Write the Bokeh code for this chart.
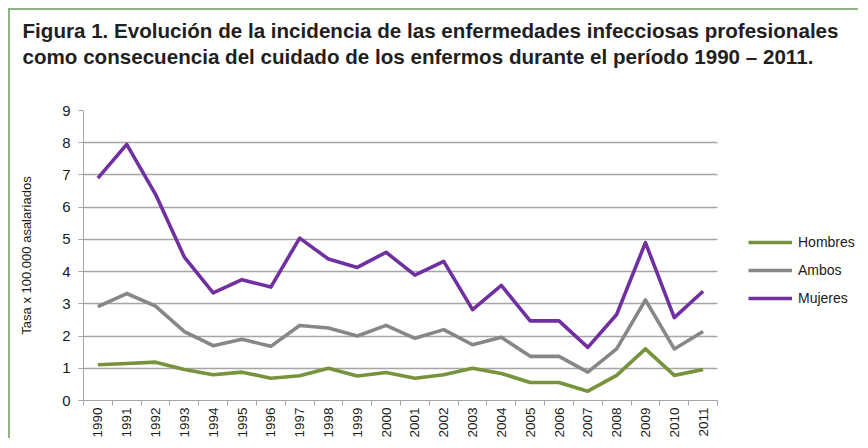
import math
from bokeh.plotting import figure
from bokeh.models import Range1d, FixedTicker, Legend, LegendItem, Title
from bokeh.embed import file_html
from bokeh.resources import INLINE

years = [1990, 1991, 1992, 1993, 1994, 1995, 1996, 1997, 1998, 1999, 2000,
         2001, 2002, 2003, 2004, 2005, 2006, 2007, 2008, 2009, 2010, 2011]
tick_labels = [str(y) for y in years]
hombres = [1.11, 1.15, 1.19, 0.96, 0.80, 0.88, 0.69, 0.77, 1.00, 0.76, 0.87,
           0.69, 0.80, 1.00, 0.84, 0.56, 0.56, 0.29, 0.78, 1.60, 0.78, 0.96]
ambos = [2.91, 3.32, 2.93, 2.14, 1.70, 1.90, 1.68, 2.33, 2.25, 2.00, 2.33,
         1.93, 2.20, 1.73, 1.96, 1.37, 1.37, 0.88, 1.60, 3.12, 1.60, 2.14]
mujeres = [6.90, 7.95, 6.40, 4.45, 3.34, 3.75, 3.52, 5.04, 4.39, 4.13, 4.60,
           3.89, 4.32, 2.82, 3.57, 2.47, 2.47, 1.65, 2.67, 4.90, 2.57, 3.39]
y_ticks = [0, 1, 2, 3, 4, 5, 6, 7, 8, 9]

series_names = ["Hombres", "Ambos", "Mujeres"]
series_colors = ["#77933c", "#878787", "#7030a0"]

title_text = ("Figura 1.  Evolución de la incidencia de las enfermedades infecciosas profesionales\n"
              "como consecuencia del cuidado de los enfermos durante el período 1990 – 2011.")
y_label = "Tasa x 100.000 asalariados"

W, H = 850, 430
LEFT, TOP, BOTTOM = 73, 100, 40
PLOT_W = 634     # width of the gridded plotting area
text_col = "#231f20"
grid_col = "#a6a6a6"

x0 = years[0] - 0.5
x1 = years[-1] + 0.5
x_end = x0 + (x1 - x0) * (W - LEFT) / PLOT_W

p = figure(width=W, height=H, output_backend="svg", toolbar_location=None,
           x_range=Range1d(x0, x_end), y_range=Range1d(y_ticks[0], y_ticks[-1]),
           min_border_left=LEFT, min_border_right=0, min_border_top=TOP,
           min_border_bottom=BOTTOM)
p.outline_line_color = None
p.styles = {"margin-left": "8px", "margin-top": "8px",
            "border-top": "2px solid #8db581", "border-left": "2px solid #8db581"}

# spacer closest to the frame, then the two-line title above it
p.add_layout(Title(text=" ", standoff=19, text_font_size="10px"), "above")
p.add_layout(Title(text=title_text, align="left", offset=-61, standoff=17,
                   vertical_align="top", text_font="Liberation Sans",
                   text_font_style="bold", text_font_size="20.6px",
                   text_line_height=1.13, text_color=text_col), "above")

p.xaxis.bounds = (x0, x1)
p.xaxis.ticker = FixedTicker(ticks=years,
                             minor_ticks=[y - 0.5 for y in years] + [x1])
p.xaxis.major_label_overrides = {y: l for y, l in zip(years, tick_labels)}
p.xaxis.major_tick_out = 0
p.xaxis.major_tick_in = 0
p.xaxis.minor_tick_out = 5
p.xaxis.minor_tick_in = 0
p.xaxis.minor_tick_line_color = grid_col
p.xaxis.axis_line_color = grid_col
p.xaxis.major_label_orientation = math.pi / 2
p.xaxis.major_label_text_font = "Liberation Sans"
p.xaxis.major_label_text_font_size = "13.5px"
p.xaxis.major_label_text_color = "#1a1a1a"
p.xaxis.major_label_standoff = 2

p.yaxis.ticker = FixedTicker(ticks=y_ticks, minor_ticks=[])
p.yaxis.major_tick_out = 5
p.yaxis.major_tick_in = 0
p.yaxis.major_tick_line_color = grid_col
p.yaxis.axis_line_color = grid_col
p.yaxis.major_label_text_font = "Liberation Sans"
p.yaxis.major_label_text_font_size = "15px"
p.yaxis.major_label_text_color = "#1a1a1a"
p.yaxis.major_label_standoff = 8
p.yaxis.axis_label = y_label
p.yaxis.axis_label_text_font = "Liberation Sans"
p.yaxis.axis_label_text_font_size = "13px"
p.yaxis.axis_label_text_font_style = "normal"
p.yaxis.axis_label_text_color = "#1a1a1a"
p.yaxis.axis_label_standoff = 25

p.xgrid.grid_line_color = None
yg = p.ygrid[0]
if "cross_bounds" in yg.properties():
    yg.cross_bounds = (x0, x1)
    yg.grid_line_color = grid_col
    yg.grid_line_width = 1.3
else:
    yg.grid_line_color = None
    p.segment(x0=[x0] * len(y_ticks), x1=[x1] * len(y_ticks), y0=y_ticks, y1=y_ticks,
              line_color=grid_col, line_width=1.3, level="underlay")

items = []
for name, col, vals in zip(series_names, series_colors, [hombres, ambos, mujeres]):
    r = p.line(years, vals, line_color=col, line_width=3.6, line_join="round")
    items.append(LegendItem(label=name, renderers=[r]))

legend = Legend(items=items, location=(665, 92), orientation="vertical",
                glyph_width=44, glyph_height=20, label_height=20, spacing=8,
                label_standoff=6, padding=0, margin=0,
                label_text_font="Liberation Sans", label_text_font_size="14px",
                label_text_color="#1a1a1a", border_line_color=None,
                background_fill_alpha=0)
p.add_layout(legend, "center")

open("out.html", "w").write(file_html(p, INLINE))
